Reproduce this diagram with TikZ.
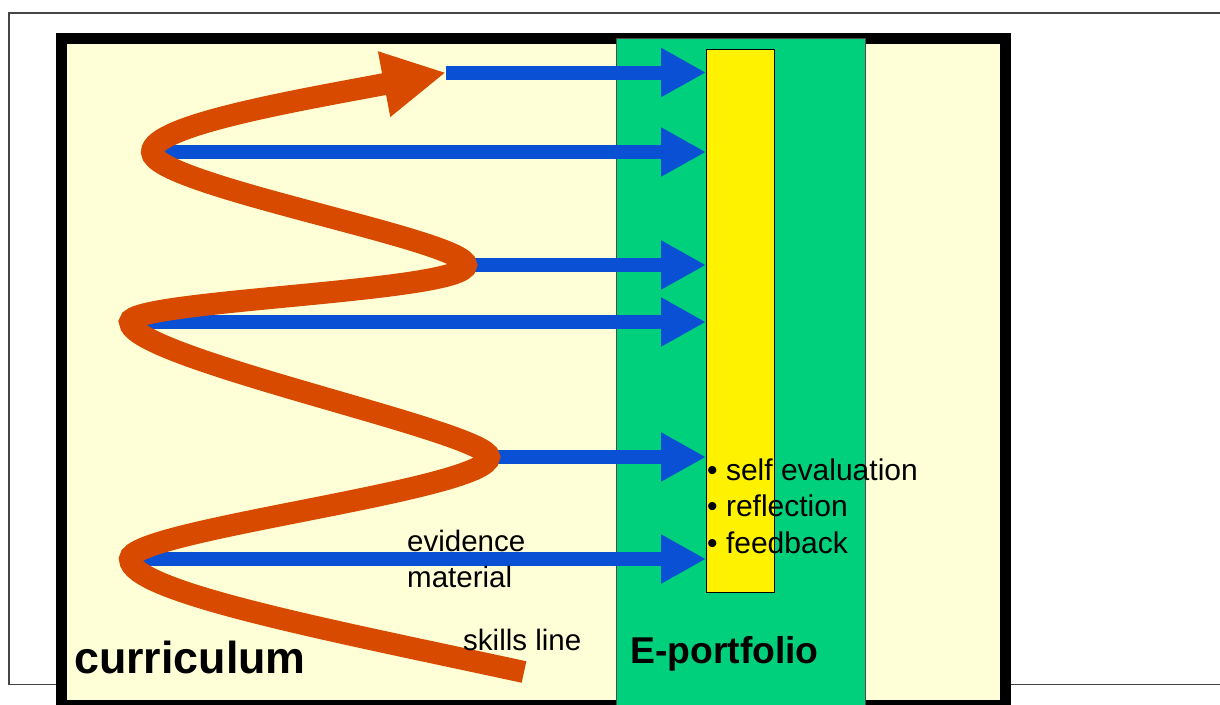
\documentclass[tikz,border=0pt]{standalone}
\usepackage{fontspec}
\setmainfont{Liberation Sans}
\usetikzlibrary{arrows.meta,positioning}

\definecolor{cream}{HTML}{FFFFD7}
\definecolor{portgreen}{HTML}{00CF7B}
\definecolor{arrowblue}{HTML}{0A50D5}
\definecolor{skillorange}{HTML}{D84A00}
\definecolor{framegray}{HTML}{454545}

\begin{document}
\begin{tikzpicture}[x=1pt,y=-1pt,
  bluearrow/.style={draw=arrowblue,line width=14pt,-{Triangle[length=45pt,width=46pt]}},
  skills/.style={draw=skillorange,line width=22pt,-{Triangle[length=63pt,width=62pt]}},
  lbl/.style={inner sep=0pt,anchor=base west,align=left}]

  \useasboundingbox (0,0) rectangle (1220,704);
  \clip (0,0) rectangle (1220,704);

  % frames
  \draw[framegray,line width=1.6pt] (9,13) rectangle (1240,684.5);
  \draw[line width=11pt,fill=cream] (61,38.5) rectangle (1005.5,705.5);
  \draw[fill=portgreen,draw=black!70,line width=1pt] (616,38) rectangle (865,720);
  \node[draw,fill=yellow,line width=1pt,minimum width=68pt,minimum height=543pt,
        inner sep=0pt,anchor=north west] (bar) at (706,49) {};

  % turning points of the skills line
  \coordinate (tipA) at (446,72.5);
  \coordinate (tipB) at (152,152);
  \coordinate (tipC) at (466,265);
  \coordinate (tipD) at (130,322);
  \coordinate (tipE) at (489,457);
  \coordinate (tipF) at (130,559);
  \coordinate (start) at (524,672);

  % evidence arrows
  \foreach \t in {tipA,tipB,tipC,tipD,tipE,tipF}
    \draw[bluearrow] (\t) -- (\t -| bar.west);

  % skills line
  \draw[skills] (start) .. controls (330,630) and (130,592) .. (tipF)
    .. controls (130,530) and (489,490) .. (tipE)
    .. controls (489,432) and (130,358) .. (tipD)
    .. controls (130,300) and (466,292) .. (tipC)
    .. controls (466,240) and (152,185) .. (tipB)
    .. controls (152,125) and (300,100) .. (tipA);

  % labels (base = last line)
  \node[lbl,font=\fontsize{30}{36.5}\selectfont] (notes) at (707,553)
    {\textbullet\ self evaluation\\\textbullet\ reflection\\\textbullet\ feedback};
  \node[lbl,font=\fontsize{29.5}{36}\selectfont] (evid) at (407,587) {evidence\\material};
  \node[lbl,font=\fontsize{29.5}{34}\selectfont] (skl) at (463,650) {skills line};
  \node[lbl,font=\fontsize{44.8}{50}\bfseries] (curr) at (74,673) {curriculum};
  \node[lbl,font=\fontsize{37.3}{44}\bfseries] (port) at (630,663) {E-portfolio};
\end{tikzpicture}
\end{document}
